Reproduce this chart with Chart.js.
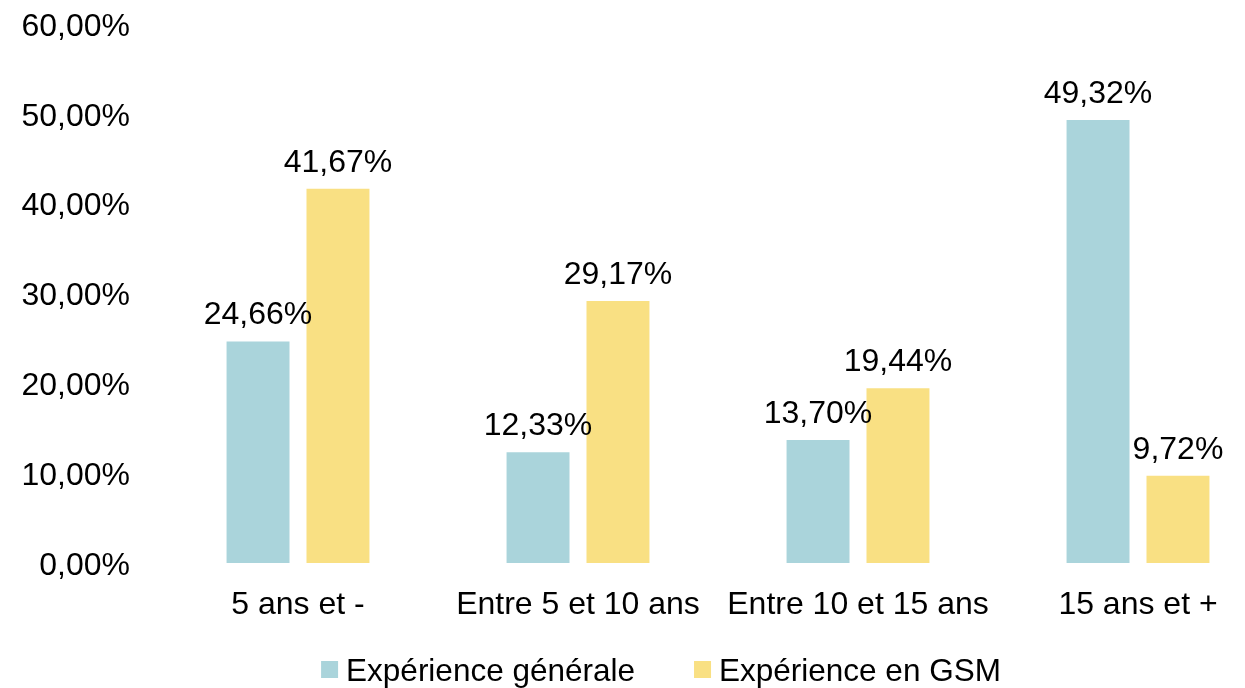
<!DOCTYPE html>
<html>
<head>
<meta charset="utf-8">
<script src="https://cdn.jsdelivr.net/npm/chart.js@4.4.1/dist/chart.umd.min.js"></script>
<style>
html,body{margin:0;padding:0;background:#fff;overflow:hidden;}
#wrap{position:relative;width:1322px;height:688px;}
</style>
</head>
<body>
<div id="wrap"><canvas id="c"></canvas></div>
<script>
const categories = ["5 ans et -", "Entre 5 et 10 ans", "Entre 10 et 15 ans", "15 ans et +"];
const seriesNames = ["Expérience générale", "Expérience en GSM"];
const generale = [24.66, 12.33, 13.70, 49.32];
const gsm = [41.67, 29.17, 19.44, 9.72];
const yTicks = [0, 10, 20, 30, 40, 50, 60];

const FONT = "Liberation Sans, Arial, sans-serif";
const FS = 32;
const fmt = v => v.toFixed(2).replace('.', ',') + '%';

const valueLabels = {
  id: 'valueLabels',
  afterDatasetsDraw(chart) {
    const ctx = chart.ctx;
    ctx.save();
    ctx.font = FS + "px " + FONT;
    ctx.fillStyle = "#000";
    ctx.textAlign = "center";
    ctx.textBaseline = "alphabetic";
    chart.data.datasets.forEach((ds, i) => {
      chart.getDatasetMeta(i).data.forEach((bar, j) => {
        ctx.fillText(fmt(ds.data[j]), bar.x, bar.y - 17);
      });
    });
    ctx.restore();
  }
};

const customLegend = {
  id: 'customLegend',
  afterDraw(chart) {
    const ctx = chart.ctx;
    ctx.save();
    ctx.font = "31.5px " + FONT;
    ctx.textBaseline = "alphabetic";
    const box = 17, gapText = 8, gapItem = 59;
    const items = chart.data.datasets.map(ds => ({label: ds.label, color: ds.backgroundColor, w: ctx.measureText(ds.label).width}));
    let total = 0;
    items.forEach((it, k) => { total += box + gapText + it.w + (k ? gapItem : 0); });
    let x = chart.width / 2 - total / 2;
    const base = 681;
    items.forEach((it) => {
      ctx.fillStyle = it.color;
      ctx.fillRect(x, base - 20, box, box);
      ctx.fillStyle = "#000";
      ctx.textAlign = "left";
      ctx.fillText(it.label, x + box + gapText, base);
      x += box + gapText + it.w + gapItem;
    });
    ctx.restore();
  }
};

new Chart(document.getElementById('c'), {
  type: 'bar',
  data: {
    labels: categories,
    datasets: [
      {label: seriesNames[0], data: generale, backgroundColor: '#AAD4DB'},
      {label: seriesNames[1], data: gsm, backgroundColor: '#F9E083'}
    ]
  },
  options: {
    responsive: true,
    maintainAspectRatio: false,
    animation: false,
    layout: {padding: {top: 24, right: 44, bottom: 0, left: 0}},
    datasets: {bar: {categoryPercentage: 0.571, barPercentage: 0.7875}},
    plugins: {legend: {display: false}, tooltip: {enabled: false}},
    scales: {
      x: {
        grid: {display: false, drawTicks: false},
        border: {display: false},
        ticks: {color: '#000', font: {family: FONT, size: FS}, padding: 23, maxRotation: 0, autoSkip: false},
        afterFit: s => { s.height = 125; s.paddingLeft = 0; s.paddingRight = 0; }
      },
      y: {
        min: 0, max: 60,
        afterBuildTicks: s => { s.ticks = yTicks.map(v => ({value: v})); },
        grid: {display: false, drawTicks: false},
        border: {display: false},
        ticks: {color: '#000', font: {family: FONT, size: FS}, padding: 28, labelOffset: 3, callback: v => fmt(v)},
        afterFit: s => { s.width = 158; s.paddingTop = 0; s.paddingBottom = 0; }
      }
    }
  },
  plugins: [valueLabels, customLegend]
});
</script>
</body>
</html>
